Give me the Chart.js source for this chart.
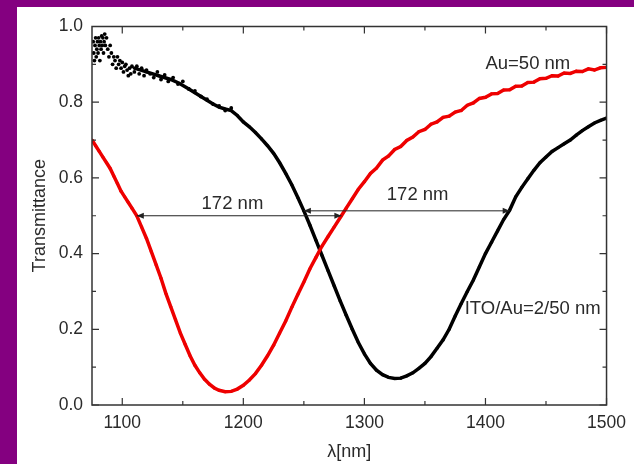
<!DOCTYPE html>
<html><head><meta charset="utf-8">
<script src="https://cdn.jsdelivr.net/npm/chart.js@4.4.0/dist/chart.umd.min.js"></script>
<style>
html,body{margin:0;padding:0;background:#840080;width:634px;height:464px;overflow:hidden}
#wrap{position:absolute;left:17px;top:7px;width:617px;height:457px;background:#fff}
canvas{display:block}
</style></head><body><div id="wrap"><canvas id="c" width="617" height="457"></canvas></div>
<script>
// tick labels
const xTicks = [1100, 1200, 1300, 1400, 1500];
const yTicks = [0, 0.2, 0.4, 0.6, 0.8, 1.0];

// ITO/Au=2/50 nm, scattered start
const blackNoiseWl = [1076,1076.5,1077,1077.5,1078,1078.5,1079,1079.5,1080,1080.5,1081,1081.5,1082,1082.5,1083,1083.5,1084,1084.5,1085,1085.5,1086,1087,1088,1089,1090,1091,1092,1093,1094,1095,1096,1097,1098,1099,1100,1101,1102,1103,1104,1105,1106,1107,1108,1110,1112,1114,1116,1118,1120,1123,1126,1129,1132,1135,1138,1142,1146,1150,1155,1160,1165,1170,1175,1180,1185,1190];
const blackNoiseT  = [0.96,0.93,0.91,0.95,0.97,0.92,0.94,0.96,0.93,0.97,0.95,0.91,0.96,0.94,0.975,0.95,0.97,0.93,0.96,0.98,0.95,0.97,0.94,0.92,0.95,0.93,0.90,0.92,0.91,0.89,0.92,0.90,0.91,0.89,0.905,0.88,0.895,0.90,0.885,0.87,0.89,0.875,0.895,0.88,0.895,0.875,0.89,0.87,0.885,0.875,0.865,0.88,0.86,0.872,0.855,0.865,0.848,0.855,0.835,0.83,0.815,0.808,0.795,0.79,0.778,0.785];

// ITO/Au=2/50 nm, main curve
const blackWl = [1110,1120,1130,1140,1147,1155,1160,1165,1170,1175,1180,1185,1190,1195,1200,1205,1210,1215,1220,1225,1230,1235,1240,1245,1250,1255,1260,1265,1270,1275,1280,1285,1290,1295,1300,1305,1310,1315,1320,1325,1330,1335,1340,1345,1350,1355,1360,1365,1370,1375,1380,1385,1390,1395,1400,1405,1410,1415,1420,1425,1430,1435,1440,1445,1450,1455,1460,1465,1470,1475,1480,1485,1490,1495,1500];
const blackT  = [0.89,0.88,0.87,0.86,0.85,0.835,0.825,0.815,0.805,0.795,0.787,0.782,0.778,0.765,0.748,0.735,0.72,0.703,0.685,0.665,0.64,0.612,0.582,0.548,0.513,0.475,0.435,0.395,0.355,0.315,0.275,0.237,0.2,0.165,0.135,0.11,0.092,0.08,0.073,0.07,0.071,0.077,0.085,0.097,0.11,0.128,0.15,0.172,0.2,0.235,0.268,0.3,0.33,0.365,0.4,0.43,0.46,0.49,0.515,0.55,0.575,0.598,0.62,0.64,0.655,0.67,0.68,0.69,0.7,0.713,0.725,0.735,0.745,0.752,0.758];

// Au=50 nm
const redWl = [1075,1078,1081,1084,1087,1090,1093,1096,1099,1102,1105,1108,1112,1116,1120,1124,1128,1132,1136,1140,1144,1148,1152,1156,1160,1164,1168,1172,1176,1180,1185,1190,1195,1200,1205,1210,1215,1220,1225,1230,1235,1240,1245,1250,1255,1260,1265,1270,1275,1281,1285,1290,1295,1300,1305,1310,1315,1320,1325,1330,1335,1340,1345,1350,1355,1360,1365,1370,1375,1380,1385,1390,1395,1400,1405,1410,1415,1420,1425,1430,1435,1440,1445,1450,1455,1460,1465,1470,1475,1480,1485,1490,1495,1500];
const redT  = [0.70,0.685,0.67,0.655,0.64,0.625,0.605,0.585,0.565,0.55,0.535,0.52,0.5,0.47,0.44,0.405,0.37,0.335,0.295,0.26,0.225,0.19,0.16,0.13,0.105,0.085,0.068,0.055,0.045,0.039,0.035,0.036,0.042,0.052,0.066,0.083,0.105,0.13,0.158,0.19,0.222,0.258,0.292,0.325,0.36,0.39,0.42,0.445,0.47,0.5,0.52,0.545,0.57,0.59,0.612,0.626,0.647,0.658,0.675,0.683,0.699,0.708,0.722,0.728,0.742,0.748,0.76,0.763,0.774,0.778,0.792,0.798,0.81,0.813,0.822,0.823,0.832,0.833,0.842,0.843,0.852,0.853,0.862,0.863,0.87,0.869,0.877,0.876,0.882,0.881,0.888,0.885,0.891,0.892];

// double arrows (172 nm)
const arrowFrom = [1112, 1250];
const arrowTo   = [1281, 1420];
const arrowAt   = [0.5, 0.513];

// text labels
const noteText = ['172 nm', '172 nm', 'Au=50 nm', 'ITO/Au=2/50 nm'];
const noteX    = [1191, 1344, 1435, 1439];
const noteY    = [0.53, 0.555, 0.9, 0.255];

const FONT = "'Liberation Sans', Arial, sans-serif";
const TXT = '#2a2a2a';

const toPts = (xs, ys) => xs.map((x, i) => ({x, y: ys[i]}));

const decor = {
  id: 'decor',
  afterDatasetsDraw(chart) {
    const {ctx, chartArea: a, scales: {x, y}} = chart;
    ctx.save();
    // frame
    ctx.strokeStyle = '#333';
    ctx.lineWidth = 1.5;
    ctx.strokeRect(a.left, a.top, a.right - a.left, a.bottom - a.top);
    // ticks inside, all four sides
    ctx.lineWidth = 1.2;
    ctx.beginPath();
    for (let v = 1100; v <= 1500; v += 50) {
      const px = x.getPixelForValue(v);
      const L = (v % 100 === 0) ? 7 : 4;
      ctx.moveTo(px, a.bottom); ctx.lineTo(px, a.bottom - L);
      ctx.moveTo(px, a.top); ctx.lineTo(px, a.top + L);
    }
    for (let k = 0; k <= 10; k++) {
      const v = k / 10;
      const py = y.getPixelForValue(v);
      const L = (k % 2 === 0) ? 7 : 4;
      ctx.moveTo(a.left, py); ctx.lineTo(a.left + L, py);
      ctx.moveTo(a.right, py); ctx.lineTo(a.right - L, py);
    }
    ctx.stroke();
    // arrows
    ctx.strokeStyle = '#222';
    ctx.fillStyle = '#222';
    ctx.lineWidth = 1;
    for (let i = 0; i < arrowFrom.length; i++) {
      const x1 = x.getPixelForValue(arrowFrom[i]);
      const x2 = x.getPixelForValue(arrowTo[i]);
      const py = y.getPixelForValue(arrowAt[i]);
      ctx.beginPath(); ctx.moveTo(x1, py); ctx.lineTo(x2, py); ctx.stroke();
      ctx.beginPath(); ctx.moveTo(x1, py); ctx.lineTo(x1 + 7, py - 3); ctx.lineTo(x1 + 7, py + 3); ctx.closePath(); ctx.fill();
      ctx.beginPath(); ctx.moveTo(x2, py); ctx.lineTo(x2 - 7, py - 3); ctx.lineTo(x2 - 7, py + 3); ctx.closePath(); ctx.fill();
    }
    // notes
    ctx.font = '18.5px ' + FONT;
    ctx.fillStyle = TXT;
    ctx.textAlign = 'center';
    ctx.textBaseline = 'middle';
    for (let i = 0; i < noteText.length; i++) {
      ctx.fillText(noteText[i], x.getPixelForValue(noteX[i]), y.getPixelForValue(noteY[i]));
    }
    ctx.restore();
  }
};

new Chart(document.getElementById('c'), {
  type: 'scatter',
  data: {
    datasets: [
      {label: 'Au=50 nm', data: toPts(redWl, redT), showLine: true, borderColor: '#ee0000', backgroundColor: '#ee0000', borderWidth: 3.5, pointRadius: 1.6, pointBorderWidth: 0, tension: 0},
      {label: 'ITO/Au=2/50 nm', data: toPts(blackWl, blackT), showLine: true, borderColor: '#000', backgroundColor: '#000', borderWidth: 3.5, pointRadius: 1.6, pointBorderWidth: 0, tension: 0},
      {label: 'ITO/Au=2/50 nm noisy', data: toPts(blackNoiseWl, blackNoiseT), showLine: false, backgroundColor: '#000', borderColor: '#000', pointRadius: 1.9, pointBorderWidth: 0}
    ]
  },
  options: {
    responsive: false,
    animation: false,
    layout: {padding: {top: 18, right: 24, left: 0, bottom: 0}},
    plugins: {legend: {display: false}, tooltip: {enabled: false}},
    scales: {
      x: {
        type: 'linear', min: 1075, max: 1500,
        afterFit(s) { s.height = 59; },
        afterBuildTicks(s) { s.ticks = xTicks.map(v => ({value: v})); },
        grid: {display: false, drawTicks: false},
        border: {display: false},
        ticks: {padding: 8, color: TXT, font: {family: FONT, size: 17.5}, maxRotation: 0, autoSkip: false, callback: v => String(v)},
        title: {display: true, text: 'λ[nm]', color: TXT, font: {family: FONT, size: 18}, padding: {top: 0, bottom: 1}}
      },
      y: {
        type: 'linear', min: 0, max: 1,
        afterFit(s) { s.width = 75; },
        afterBuildTicks(s) { s.ticks = yTicks.map(v => ({value: v})); },
        grid: {display: false, drawTicks: false},
        border: {display: false},
        ticks: {padding: 9, color: TXT, font: {family: FONT, size: 17.5}, callback: v => v.toFixed(1)},
        title: {display: true, text: 'Transmittance', color: TXT, font: {family: FONT, size: 18}, padding: {top: 12, bottom: 0}}
      }
    }
  },
  plugins: [decor]
});
</script>
</body></html>
